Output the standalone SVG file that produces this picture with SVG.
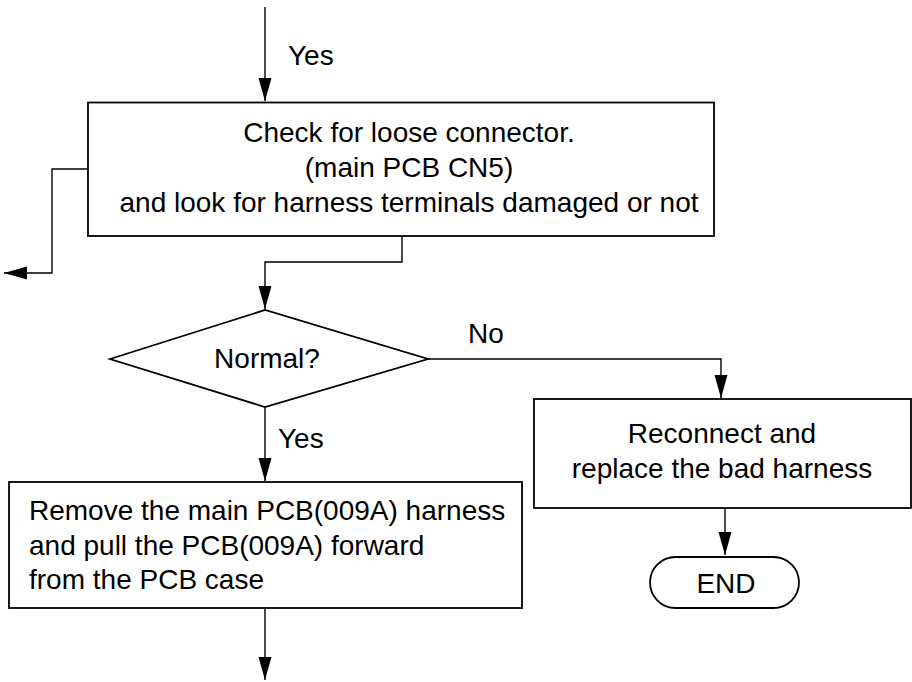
<svg xmlns="http://www.w3.org/2000/svg" width="912" height="682" viewBox="0 0 912 682">
<defs>
<marker id="ah" markerUnits="userSpaceOnUse" markerWidth="24" markerHeight="14" refX="23" refY="6.5" orient="auto">
<path d="M0,0 L23,6.5 L0,13 z" fill="#000"/>
</marker>
</defs>
<style>
.box{fill:#fff;stroke:#000;stroke-width:1.8}
.ln{fill:none;stroke:#000;stroke-width:1.4}
text{font-family:"Liberation Sans",Arial,sans-serif;font-size:28px;fill:#000}
.c{text-anchor:middle}
</style>
<rect width="912" height="682" fill="#fff"/>
<g id="connectors">
<path class="ln" d="M265,7 V101" marker-end="url(#ah)"/>
<path class="ln" d="M88,169 H52 V273 H4" marker-end="url(#ah)"/>
<path class="ln" d="M402,236 V262 H265 V309" marker-end="url(#ah)"/>
<path class="ln" d="M428,359 H721 V398" marker-end="url(#ah)"/>
<path class="ln" d="M265,407 V481" marker-end="url(#ah)"/>
<path class="ln" d="M725,508 V555" marker-end="url(#ah)"/>
<path class="ln" d="M265,608 V680" marker-end="url(#ah)"/>
<text x="288" y="65">Yes</text>
<text x="468" y="343">No</text>
<text x="278" y="448">Yes</text>
</g>
<g id="check">
<rect class="box" x="88" y="102.5" width="626" height="133.5"/>
<text class="c" x="409" y="142">Check for loose connector.</text>
<text class="c" x="409" y="177">(main PCB CN5)</text>
<text class="c" x="409" y="212">and look for harness terminals damaged or not</text>
</g>
<g id="normal">
<polygon class="box" points="110,359 265,310 428,359 265,407"/>
<text class="c" x="267" y="368">Normal?</text>
</g>
<g id="reconnect">
<rect class="box" x="534" y="399" width="377" height="109"/>
<text class="c" x="722" y="443">Reconnect and</text>
<text class="c" x="722" y="478">replace the bad harness</text>
</g>
<g id="end">
<rect class="box" x="650" y="557" width="149" height="51" rx="25.5" ry="25.5"/>
<text class="c" x="726" y="593">END</text>
</g>
<g id="remove">
<rect class="box" x="9" y="482" width="513" height="126"/>
<text x="29" y="520">Remove the main PCB(009A) harness</text>
<text x="29" y="554.5">and pull the PCB(009A) forward</text>
<text x="29" y="589">from the PCB case</text>
</g>
</svg>
